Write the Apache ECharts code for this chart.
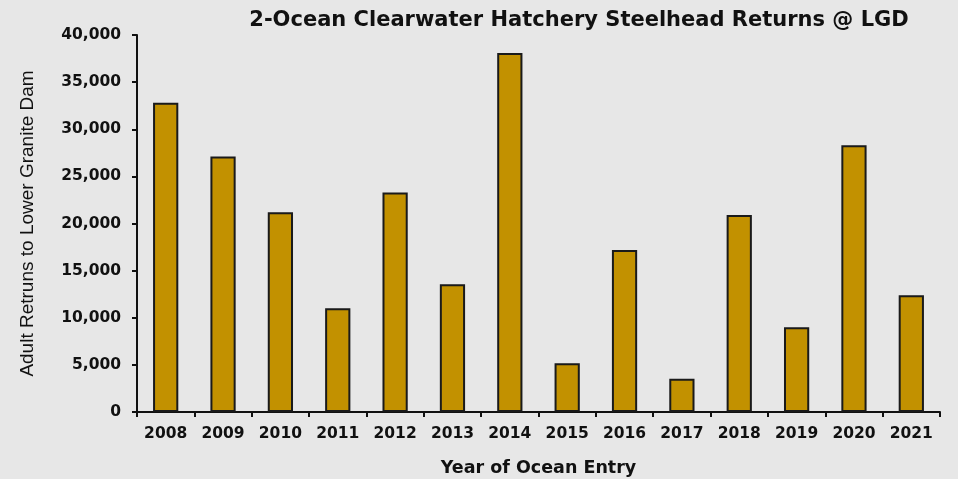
<!DOCTYPE html>
<html>
<head>
<meta charset="utf-8">
<script src="https://cdn.jsdelivr.net/npm/echarts@6/dist/echarts.min.js"></script>
<style>
html,body{margin:0;padding:0;background:#e7e7e7;}
#chart{width:958px;height:479px;}
</style>
</head>
<body>
<div id="chart"></div>
<script>
var years = ['2008','2009','2010','2011','2012','2013','2014','2015','2016','2017','2018','2019','2020','2021'];
var returns = [32800, 27100, 21200, 11000, 23300, 13550, 38100, 5170, 17200, 3540, 20900, 9000, 28300, 12400];
var yTicks = {min: 0, max: 40000, interval: 5000};

var chart = echarts.init(document.getElementById('chart'));
chart.setOption({
  backgroundColor: '#e7e7e7',
  animation: false,
  title: {
    text: '2-Ocean Clearwater Hatchery Steelhead Returns @ LGD',
    left: 574, top: 5, textAlign: 'center',
    textStyle: {fontFamily: 'DejaVu Sans', fontWeight: 'bold', fontSize: 21, color: '#111'}
  },
  grid: {left: 137, right: 18, top: 35, bottom: 67, containLabel: false, outerBoundsMode: 'none'},
  xAxis: {
    type: 'category',
    data: years,
    name: 'Year of Ocean Entry',
    nameLocation: 'middle',
    nameGap: 47,
    nameTextStyle: {fontFamily: 'DejaVu Sans', fontWeight: 'bold', fontSize: 17.5, color: '#111'},
    axisLine: {lineStyle: {color: '#111', width: 2}},
    axisTick: {show: true, inside: false, length: 5, alignWithLabel: false, lineStyle: {color: '#111', width: 2}},
    axisLabel: {fontFamily: 'DejaVu Sans', fontWeight: 'bold', fontSize: 15.5, color: '#111', margin: 14}
  },
  yAxis: {
    type: 'value',
    min: yTicks.min, max: yTicks.max, interval: yTicks.interval,
    name: 'Adult Retruns to Lower Granite Dam',
    nameLocation: 'middle',
    nameGap: 100,
    nameRotate: 90,
    nameTextStyle: {fontFamily: 'Liberation Sans Narrow, Liberation Sans', fontSize: 19, color: '#111'},
    axisLine: {show: true, lineStyle: {color: '#111', width: 2}},
    axisTick: {show: true, length: 5, lineStyle: {color: '#111', width: 2}},
    splitLine: {show: false},
    axisLabel: {
      fontFamily: 'DejaVu Sans', fontWeight: 'bold', fontSize: 15.5, color: '#111', margin: 16,
      formatter: function (v) { return v.toLocaleString('en-US'); }
    }
  },
  series: [{
    type: 'bar',
    data: returns,
    barWidth: '44%',
    itemStyle: {color: '#c29100', borderColor: '#1a1a1a', borderWidth: 2}
  }]
});
</script>
</body>
</html>
